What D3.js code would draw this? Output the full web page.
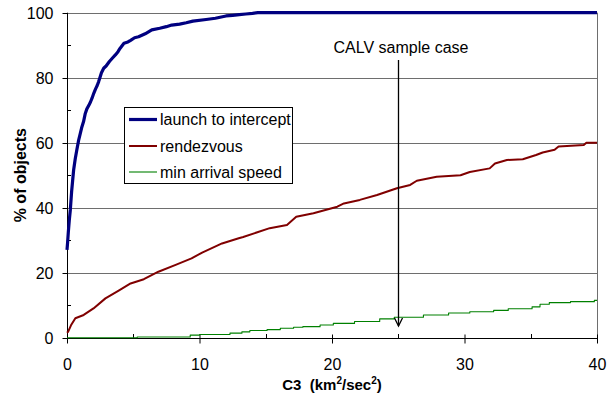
<!DOCTYPE html>
<html>
<head>
<meta charset="utf-8">
<script src="https://cdn.jsdelivr.net/npm/d3@7"></script>
<style>
  html, body { margin: 0; padding: 0; background: #fff; }
  svg { display: block; font-family: "Liberation Sans", Arial, sans-serif; }
</style>
</head>
<body>
<svg id="chart" width="611" height="397"></svg>
<script>
// C3 (km^2/sec^2) vs cumulative % of objects reachable
const launchC3  = [0, 0.04, 0.1, 0.17, 0.25, 0.35, 0.5, 0.62, 0.75, 0.88, 1.0, 1.1, 1.25, 1.38, 1.5, 1.65, 1.78, 1.89, 2.02, 2.15, 2.28, 2.39, 2.5, 2.6, 2.77, 2.95, 3.2, 3.4, 3.65, 3.85, 4.0, 4.3, 4.6, 4.8, 5.1, 5.4, 5.9, 6.4, 7.0, 7.5, 7.9, 8.5, 9.0, 9.5, 10.5, 11.2, 12.0, 12.5, 13.0, 13.5, 14.0, 14.4, 40];
const launchPct = [27, 29, 32.5, 36, 39.3, 45, 51.6, 55, 58, 60.8, 62.8, 64.5, 66.5, 69, 70.4, 71.5, 72.6, 73.7, 75.2, 76.5, 77.6, 78.8, 80.2, 81.5, 82.9, 83.6, 85, 85.9, 87, 88, 89, 90.6, 91, 91.5, 92.3, 92.6, 93.5, 94.7, 95.2, 95.7, 96.2, 96.5, 96.9, 97.4, 97.9, 98.3, 99, 99.2, 99.4, 99.6, 99.8, 100, 100];

const rendC3  = [0, 0.08, 0.3, 0.63, 1.26, 2.0, 2.9, 3.9, 4.8, 5.8, 6.9, 8.2, 9.4, 10.2, 11.7, 12.96, 13.3, 15.3, 16.6, 17.3, 18.6, 20.4, 20.9, 22.1, 23.4, 24.9, 25.9, 26.4, 27.9, 29.7, 30.4, 31.9, 32.3, 33.2, 34.4, 35.4, 35.9, 36.8, 37.1, 39.0, 39.2, 40];
const rendPct = [1.5, 1.8, 3.8, 6, 7, 9, 12.1, 14.5, 16.7, 18, 20.3, 22.4, 24.4, 26.2, 29, 30.6, 31, 33.7, 34.7, 37.2, 38.3, 40.3, 41.3, 42.4, 43.9, 46, 47, 48.3, 49.5, 50, 51, 52.1, 53.6, 54.7, 54.9, 56.2, 57, 57.8, 58.8, 59.3, 60, 60];

const arrivalC3  = [0, 5.3, 9.3, 10, 12.3, 13.2, 13.8, 15.1, 16.1, 17.1, 17.8, 19.1, 20.1, 21.7, 23.6, 24.7, 26.9, 28.8, 30.4, 32.2, 33.3, 35.1, 35.7, 36.4, 38.0, 39.8, 40];
const arrivalPct = [0, 0.2, 0.8, 1.0, 1.4, 1.8, 2.2, 2.5, 2.9, 3.2, 3.4, 3.9, 4.4, 5.0, 5.8, 6.3, 7.0, 7.6, 8.0, 8.4, 8.9, 9.5, 10.3, 10.8, 11.1, 11.5, 11.5];

const seriesNames  = ["launch to intercept", "rendezvous", "min arrival speed"];
const seriesColors = ["#000080", "#800000", "#008000"];
const seriesWidths = [3.2, 2, 1.1];

const xTicks = [0, 10, 20, 30, 40];
const xMinor = [5, 15, 25, 35];
const yTicks = [0, 20, 40, 60, 80, 100];
const yMinor = [10, 30, 50, 70, 90];

const calvC3 = 25;
const calvLabel = "CALV sample case";

const FONT = 16;
const svg = d3.select("#chart");
const plotLeft = 67, plotRight = 597, plotTop = 12.7, plotBottom = 337.7;

const x = d3.scaleLinear().domain([0, 40]).range([plotLeft, plotRight]);
const y = d3.scaleLinear().domain([0, 100]).range([plotBottom, plotTop]);

// horizontal gridlines + right frame edge
svg.append("g").selectAll("line").data(yTicks.filter(d => d > 0)).join("line")
  .attr("x1", plotLeft).attr("x2", plotRight)
  .attr("y1", d => Math.round(y(d)) + 0.5).attr("y2", d => Math.round(y(d)) + 0.5)
  .attr("stroke", "#6e6e6e").attr("stroke-width", 1);
svg.append("line")
  .attr("x1", plotRight + 0.5).attr("x2", plotRight + 0.5).attr("y1", y(100)).attr("y2", y(0))
  .attr("stroke", "#6e6e6e");

// y axis
const yAxis = svg.append("g").attr("transform", `translate(${plotLeft + 0.5},0)`)
  .call(d3.axisLeft(y).tickValues(yTicks).tickSize(5).tickPadding(9).tickFormat(d3.format("d")));
yAxis.select(".domain").attr("d", `M0,${y(100)}V${y(0)}`).attr("stroke", "#000");
yAxis.selectAll(".tick line").attr("stroke", "#000");
yAxis.selectAll(".tick").attr("transform", d => `translate(0,${Math.round(y(d)) + 0.5})`);
yAxis.selectAll("text").attr("font-size", FONT).attr("fill", "#000")
  .attr("font-family", "Liberation Sans, Arial, sans-serif");
svg.append("g").selectAll("line").data(yMinor).join("line")
  .attr("x1", plotLeft).attr("x2", plotLeft + 4)
  .attr("y1", d => Math.round(y(d)) + 0.5).attr("y2", d => Math.round(y(d)) + 0.5)
  .attr("stroke", "#000");

// x axis
const xAxis = svg.append("g").attr("transform", `translate(0,${Math.round(plotBottom) + 0.5})`)
  .call(d3.axisBottom(x).tickValues(xTicks).tickSize(5).tickPadding(15).tickFormat(d3.format("d")));
xAxis.select(".domain").attr("d", `M${plotLeft},0H${plotRight}`).attr("stroke", "#000");
xAxis.selectAll(".tick line").attr("y1", -4).attr("stroke", "#000");
xAxis.selectAll("text").attr("font-size", FONT).attr("fill", "#000")
  .attr("font-family", "Liberation Sans, Arial, sans-serif");
svg.append("g").selectAll("line").data(xMinor).join("line")
  .attr("x1", d => Math.round(x(d)) + 0.5).attr("x2", d => Math.round(x(d)) + 0.5)
  .attr("y1", Math.round(plotBottom) - 4).attr("y2", Math.round(plotBottom))
  .attr("stroke", "#000");

// series
const seriesData = [
  d3.zip(launchC3, launchPct),
  d3.zip(rendC3, rendPct),
  d3.zip(arrivalC3, arrivalPct)
];
const curves = [d3.curveLinear, d3.curveLinear, d3.curveStepAfter];
seriesData.forEach((pts, i) => {
  const line = d3.line().x(d => x(d[0])).y(d => y(d[1])).curve(curves[i]);
  svg.append("path").datum(pts)
    .attr("d", line)
    .attr("fill", "none")
    .attr("stroke", seriesColors[i])
    .attr("stroke-width", seriesWidths[i])
    .attr("stroke-linejoin", "round");
});

// CALV annotation arrow
const ax = Math.round(x(calvC3)) + 0.5;
svg.append("text").attr("x", 401).attr("y", 53)
  .attr("text-anchor", "middle").attr("font-size", FONT).text(calvLabel);
svg.append("line").attr("x1", ax).attr("x2", ax).attr("y1", 60).attr("y2", 326)
  .attr("stroke", "#000").attr("stroke-width", 1.3);
svg.append("path").attr("d", `M${ax - 4},${318}L${ax},${326}L${ax + 4},${318}`)
  .attr("fill", "none").attr("stroke", "#000").attr("stroke-width", 1.3);

// legend
const lg = svg.append("g");
lg.append("rect").attr("x", 124.5).attr("y", 107.5).attr("width", 168).attr("height", 76)
  .attr("fill", "#fff").attr("stroke", "#000");
const legendY = [119.5, 146, 172];
seriesNames.forEach((name, i) => {
  lg.append("line").attr("x1", 129).attr("x2", 157).attr("y1", legendY[i]).attr("y2", legendY[i])
    .attr("stroke", seriesColors[i]).attr("stroke-width", seriesWidths[i]);
  lg.append("text").attr("x", 160).attr("y", legendY[i]).attr("dy", "0.35em")
    .attr("font-size", FONT).text(name);
});

// axis titles
const xt = svg.append("text").attr("x", 332).attr("y", 390)
  .attr("text-anchor", "middle").attr("font-size", 15).attr("font-weight", "bold");
xt.append("tspan").text("C3\u00a0\u00a0(km");
xt.append("tspan").attr("dy", -6).attr("font-size", 10).text("2");
xt.append("tspan").attr("dy", 6).text("/sec");
xt.append("tspan").attr("dy", -6).attr("font-size", 10).text("2");
xt.append("tspan").attr("dy", 6).text(")");

svg.append("text").attr("transform", `translate(26,${(plotTop + plotBottom) / 2}) rotate(-90)`)
  .attr("text-anchor", "middle").attr("font-size", 16).attr("font-weight", "bold")
  .text("% of objects");
</script>
</body>
</html>
